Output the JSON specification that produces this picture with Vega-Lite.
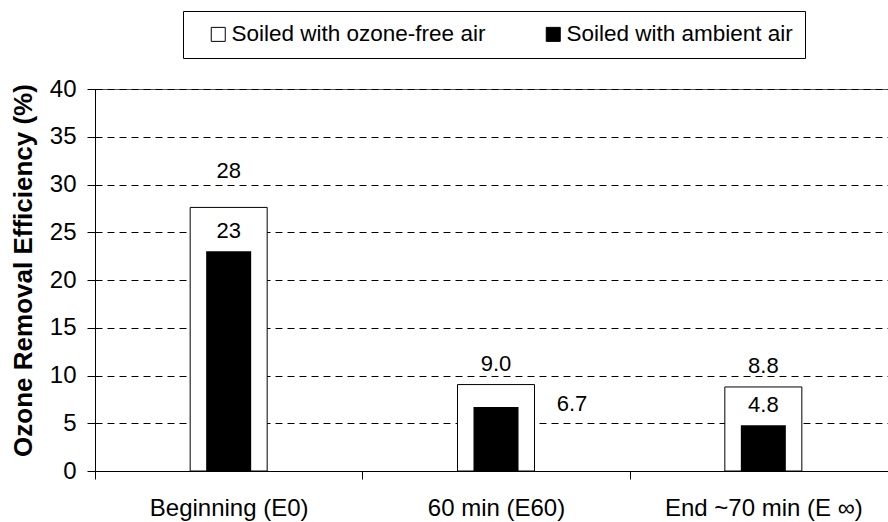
{
  "$schema": "https://vega.github.io/schema/vega-lite/v6.json",
  "width": 802,
  "height": 382,
  "autosize": {"type": "none"},
  "padding": {"left": 95, "top": 89, "right": 0, "bottom": 51},
  "background": "white",
  "config": {
    "font": "Liberation Sans",
    "view": {"stroke": "#555555", "strokeWidth": 1}
  },
  "data": {
    "values": [
      {"time": "Beginning (E0)", "series": "Soiled with ozone-free air", "value": 27.6, "label": "28"},
      {"time": "60 min (E60)", "series": "Soiled with ozone-free air", "value": 9.05, "label": "9.0"},
      {"time": "End ~70 min (E ∞)", "series": "Soiled with ozone-free air", "value": 8.8, "label": "8.8"},
      {"time": "Beginning (E0)", "series": "Soiled with ambient air", "value": 23.0, "label": "23"},
      {"time": "60 min (E60)", "series": "Soiled with ambient air", "value": 6.7, "label": "6.7"},
      {"time": "End ~70 min (E ∞)", "series": "Soiled with ambient air", "value": 4.8, "label": "4.8"}
    ]
  },
  "encoding": {
    "x": {
      "field": "time",
      "type": "nominal",
      "sort": null,
      "scale": {"paddingInner": 0, "paddingOuter": 0},
      "axis": {
        "title": null,
        "labelAngle": 0,
        "labelFontSize": 24,
        "labelColor": "black",
        "labelPadding": 17,
        "labelLimit": 400,
        "tickBand": "extent",
        "tickSize": 8,
        "tickColor": "black",
        "domainColor": "black",
        "grid": false
      }
    },
    "y": {
      "field": "value",
      "type": "quantitative",
      "scale": {"domain": [0, 40], "nice": false},
      "axis": {
        "title": "Ozone Removal Efficiency (%)",
        "titleFontSize": 26,
        "titleFontWeight": "bold",
        "titleColor": "black",
        "titleX": -64,
        "titleY": 181,
        "titleAngle": -90,
        "titleAlign": "center",
        "titleBaseline": "alphabetic",
        "values": [0, 5, 10, 15, 20, 25, 30, 35, 40],
        "labelFontSize": 24,
        "labelColor": "black",
        "labelPadding": 11,
        "tickSize": 8,
        "tickColor": "black",
        "domainColor": "black",
        "grid": true,
        "gridColor": "black",
        "gridDash": [7, 5],
        "gridWidth": 1
      }
    }
  },
  "layer": [
    {
      "transform": [{"filter": "datum.series == 'Soiled with ozone-free air'"}],
      "mark": {"type": "bar", "width": 77, "stroke": "black", "strokeWidth": 1, "opacity": 1},
      "encoding": {
        "color": {
          "field": "series",
          "type": "nominal",
          "scale": {"domain": ["Soiled with ozone-free air", "Soiled with ambient air"], "range": ["white", "black"]},
          "legend": {
            "orient": "none",
            "legendX": 88,
            "legendY": -78,
            "direction": "horizontal",
            "title": " ",
            "titleOrient": "left",
            "titleFontSize": 10,
            "titlePadding": 12,
            "symbolType": "square",
            "symbolSize": 196,
            "symbolStrokeColor": "black",
            "symbolStrokeWidth": 1,
            "symbolOpacity": 1,
            "labelFontSize": 22.5,
            "labelColor": "black",
            "labelOffset": 2,
            "labelLimit": 400,
            "columnPadding": 56,
            "padding": 12,
            "strokeColor": "black",
            "fillColor": "white",
            "labelExpr": "datum.label + (datum.index == 1 ? '\u00a0\u00a0\u00a0' : '')"
          }
        }
      }
    },
    {
      "transform": [{"filter": "datum.series == 'Soiled with ambient air'"}],
      "mark": {"type": "bar", "width": 45, "opacity": 1},
      "encoding": {
        "color": {
          "field": "series",
          "type": "nominal",
          "scale": {"domain": ["Soiled with ozone-free air", "Soiled with ambient air"], "range": ["white", "black"]}
        }
      }
    },
    {
      "transform": [{"filter": "datum.series == 'Soiled with ozone-free air' && datum.label != '28'"}],
      "mark": {"type": "text", "fontSize": 22, "color": "black", "baseline": "middle", "align": "center", "dy": -21},
      "encoding": {"text": {"field": "label"}}
    },
    {
      "transform": [{"filter": "datum.series == 'Soiled with ozone-free air' && datum.label == '28'"}],
      "mark": {"type": "text", "fontSize": 22, "color": "black", "baseline": "middle", "align": "center", "dy": -36},
      "encoding": {"text": {"field": "label"}}
    },
    {
      "transform": [{"filter": "datum.series == 'Soiled with ambient air' && datum.label != '6.7'"}],
      "mark": {"type": "text", "fontSize": 22, "color": "black", "baseline": "middle", "align": "center", "dy": -20},
      "encoding": {"text": {"field": "label"}}
    },
    {
      "transform": [{"filter": "datum.series == 'Soiled with ambient air' && datum.label == '6.7'"}],
      "mark": {"type": "text", "fontSize": 22, "color": "black", "baseline": "middle", "align": "center", "dx": 76, "dy": -3},
      "encoding": {"text": {"field": "label"}}
    }
  ]
}
